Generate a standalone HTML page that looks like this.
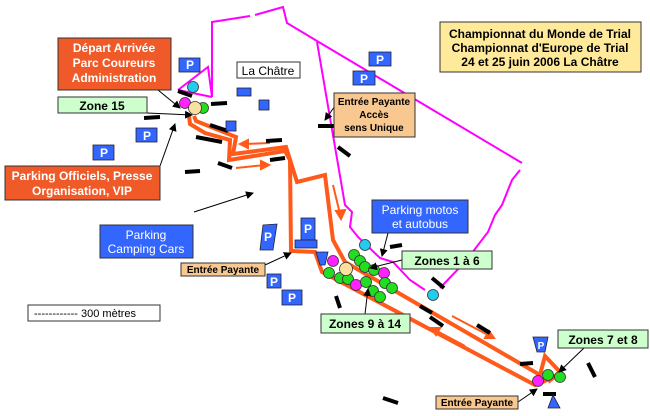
<!DOCTYPE html>
<html><head><meta charset="utf-8"><style>
body{margin:0;background:#fff}
svg{display:block}
.b{font-family:"Liberation Sans",sans-serif;font-weight:bold}
.n{font-family:"Liberation Sans",sans-serif}
</style></head><body>
<svg width="650" height="416" viewBox="0 0 650 416" xmlns="http://www.w3.org/2000/svg">
<defs><marker id="ah" markerWidth="8" markerHeight="8" refX="7" refY="4" orient="auto" markerUnits="userSpaceOnUse"><path d="M0,0 L8,4 L0,8 z" fill="#000"/></marker></defs>
<rect width="650" height="416" fill="#fff"/>
<g fill="none" stroke="#ff00ff" stroke-width="2">
<polyline points="178,90 208,67 212,97"/>
<polyline points="178,90 212,97"/>
<polyline points="212,97 212,22 250,16"/>
<polyline points="255,15 283,7 287,23 317,41 522,163"/>
<polyline points="317,42 345,205 352,212 350,227 358,237 380,258 393,262 410,280 425,290"/>
<polyline points="440,288 465,262 488,232 495,215 502,205 512,180 520,170"/>
</g>
<g fill="none" stroke="#ff5a1a" stroke-width="4" stroke-linejoin="miter">
<polyline points="189,116 190,124 205,133 230,140 229,160 285,151 290,160 291,251 315,252 322,272 535,385 547,380"/>
<polyline points="194,116 196,121 236,137 233,154 286,147 297,182 325,175 333,240 345,262 540,375 545,356 560,372 548,382"/>
</g>
<g fill="none" stroke="#ff5a1a" stroke-width="2">
<line x1="270" y1="143" x2="244" y2="144"/><polygon points="240,144 248,140 248,148" fill="#ff5a1a"/>
<line x1="236" y1="168" x2="265" y2="165"/><polygon points="269,165 261,161 261,169" fill="#ff5a1a"/>
<line x1="333" y1="185" x2="340" y2="214"/><polygon points="341,219 336,211 345,210" fill="#ff5a1a"/>
<line x1="452" y1="316" x2="490" y2="336"/><polygon points="494,338 485,338 489,331" fill="#ff5a1a"/>
<line x1="465" y1="346" x2="435" y2="330"/><polygon points="431,328 440,328 436,335" fill="#ff5a1a"/>
</g>
<g stroke="#000" stroke-width="4">
<line x1="178" y1="91" x2="192" y2="96"/><line x1="211" y1="104" x2="227" y2="103"/>
<line x1="144" y1="118" x2="160" y2="117"/><line x1="210" y1="125" x2="228" y2="131"/>
<line x1="196" y1="137" x2="222" y2="142"/><line x1="266" y1="141" x2="282" y2="140"/>
<line x1="270" y1="160" x2="285" y2="158"/><line x1="218" y1="163" x2="232" y2="168"/>
<line x1="185" y1="172" x2="200" y2="171"/><line x1="318" y1="126" x2="334" y2="126"/>
<line x1="338" y1="147" x2="350" y2="156"/><line x1="390" y1="247" x2="402" y2="245"/>
<line x1="432" y1="278" x2="444" y2="288"/><line x1="336" y1="296" x2="340" y2="308"/>
<line x1="420" y1="306" x2="432" y2="313"/><line x1="430" y1="317" x2="443" y2="326"/>
<line x1="477" y1="325" x2="490" y2="333"/><line x1="520" y1="364" x2="533" y2="363"/>
<line x1="588" y1="363" x2="595" y2="377"/><line x1="383" y1="398" x2="398" y2="403"/>
<line x1="543" y1="394" x2="556" y2="394"/>
</g>
<g fill="#3366ff" stroke="#223" stroke-width="0.8">
<rect x="237" y="88" width="14" height="8"/><rect x="259" y="100" width="10" height="10"/><rect x="226" y="121" width="10" height="10"/>
</g>
<g fill="#3366ff" stroke="#223" stroke-width="0.8">
<rect x="179" y="58" width="21" height="14"/><rect x="136" y="128" width="21" height="14"/><rect x="93" y="145" width="21" height="15"/>
<rect x="369" y="52" width="22" height="14"/><rect x="353" y="71" width="22" height="14"/>
<polygon points="263,225 277,224 273,250 260,250"/>
<rect x="301" y="218" width="14" height="22"/><rect x="295" y="240" width="22" height="8"/>
<polygon points="316,252 328,252 325,265 320,265"/>
<rect x="267" y="274" width="14" height="14"/><rect x="282" y="290" width="20" height="15"/>
<polygon points="533,337 548,337 545,352 537,352"/>
<polygon points="553,395 560,408 548,408"/>
</g>
<g class="b" fill="#fff" font-size="12" text-anchor="middle">
<text x="190" y="69">P</text><text x="147" y="140">P</text><text x="104" y="157">P</text>
<text x="380" y="64">P</text><text x="364" y="83">P</text><text x="268" y="241">P</text>
<text x="308" y="233">P</text><text x="274" y="286">P</text><text x="292" y="302">P</text>
<text x="541" y="349" font-size="10">P</text>
</g>
<g stroke="#333" stroke-width="0.8">
<circle cx="193" cy="87" r="5.5" fill="#22ccee"/>
<circle cx="185" cy="103" r="5.5" fill="#ff22ff"/>
<circle cx="203" cy="108" r="5.5" fill="#22dd22"/>
<circle cx="195" cy="108" r="6.5" fill="#fbe0a0"/>
<circle cx="365" cy="245" r="5.5" fill="#22ccee"/><circle cx="433" cy="295" r="5.5" fill="#22ccee"/>
<circle cx="333" cy="261" r="5.5" fill="#ff22ff"/><circle cx="354" cy="255" r="5.5" fill="#22dd22"/>
<circle cx="360" cy="261" r="5.5" fill="#22dd22"/><circle cx="365" cy="267" r="5.5" fill="#22dd22"/>
<circle cx="374" cy="270" r="5.5" fill="#22dd22"/><circle cx="384" cy="273" r="5.5" fill="#ff22ff"/>
<circle cx="329" cy="273" r="5.5" fill="#22dd22"/><circle cx="340" cy="278" r="5.5" fill="#22dd22"/>
<circle cx="348" cy="279" r="5.5" fill="#22dd22"/><circle cx="346" cy="269" r="6.5" fill="#fbe0a0"/>
<circle cx="356" cy="285" r="5.5" fill="#ff22ff"/><circle cx="366" cy="282" r="5.5" fill="#22dd22"/>
<circle cx="385" cy="283" r="5.5" fill="#22dd22"/><circle cx="392" cy="288" r="5.5" fill="#22dd22"/>
<circle cx="373" cy="291" r="5.5" fill="#22dd22"/><circle cx="380" cy="297" r="5.5" fill="#22dd22"/>
<circle cx="538" cy="381" r="5.5" fill="#ff22ff"/><circle cx="548" cy="375" r="5.5" fill="#22dd22"/>
<circle cx="560" cy="377" r="5.5" fill="#22dd22"/>
</g>
<g stroke="#000" stroke-width="1" marker-end="url(#ah)">
<line x1="158" y1="90" x2="180" y2="108"/><line x1="147" y1="113" x2="192" y2="115"/>
<line x1="160" y1="166" x2="175" y2="124"/><line x1="194" y1="212" x2="253" y2="193"/>
<line x1="265" y1="265" x2="291" y2="253"/><line x1="335" y1="106" x2="325" y2="120"/>
<line x1="388" y1="233" x2="382" y2="256"/><line x1="402" y1="260" x2="370" y2="268"/>
<line x1="365" y1="314" x2="368" y2="289"/><line x1="584" y1="348" x2="559" y2="372"/>
<line x1="518" y1="402" x2="537" y2="389"/>
</g>
<g stroke="#333" stroke-width="1">
<rect x="58" y="38" width="113" height="52" fill="#f05a28"/>
<rect x="58" y="97" width="89" height="16" fill="#ccffcc"/>
<rect x="5" y="166" width="155" height="34" fill="#f05a28"/>
<rect x="237" y="62" width="63" height="16" fill="#fff"/>
<rect x="334" y="93" width="81" height="44" fill="#f8c890"/>
<rect x="440" y="22" width="201" height="50" fill="#ffe99a"/>
<rect x="100" y="225" width="93" height="33" fill="#3366ff"/>
<rect x="372" y="200" width="96" height="33" fill="#3366ff"/>
<rect x="402" y="251" width="90" height="18" fill="#ccffcc"/>
<rect x="181" y="263" width="84" height="13" fill="#f8c890"/>
<rect x="321" y="314" width="89" height="19" fill="#ccffcc"/>
<rect x="558" y="330" width="90" height="18" fill="#ccffcc"/>
<rect x="436" y="396" width="82" height="13" fill="#f8c890"/>
<rect x="28" y="305" width="132" height="16" fill="#fff"/>
</g>
<g class="b" font-size="12" text-anchor="middle" fill="#fff">
<text x="114" y="52">Départ Arrivée</text><text x="114" y="67">Parc Coureurs</text><text x="114" y="82">Administration</text>
<text x="82" y="180">Parking Officiels, Presse</text><text x="82" y="195">Organisation, VIP</text>
</g>
<g class="b" font-size="12" text-anchor="middle" fill="#000">
<text x="102" y="110">Zone 15</text>
<text x="268" y="75" font-weight="normal">La Châtre</text>
<text x="447" y="265">Zones 1 à 6</text>
<text x="365" y="328">Zones 9 à 14</text>
<text x="603" y="344">Zones 7 et 8</text>
<text x="540" y="38">Championnat du Monde de Trial</text>
<text x="540" y="52">Championnat d'Europe de Trial</text>
<text x="540" y="66">24 et 25 juin 2006 La Châtre</text>
</g>
<g class="b" font-size="10" text-anchor="middle" fill="#000">
<text x="374" y="105">Entrée Payante</text><text x="374" y="118">Accès</text><text x="374" y="131">sens Unique</text>
<text x="223" y="273">Entrée Payante</text><text x="477" y="406">Entrée Payante</text>
</g>
<g class="n" font-size="12" text-anchor="middle" fill="#fff">
<text x="146" y="239">Parking</text><text x="146" y="253">Camping Cars</text>
<text x="420" y="214">Parking motos</text><text x="420" y="228">et autobus</text>
</g>
<text class="n" x="34" y="317" font-size="11">------------   300 mètres</text>
</svg>
</body></html>
